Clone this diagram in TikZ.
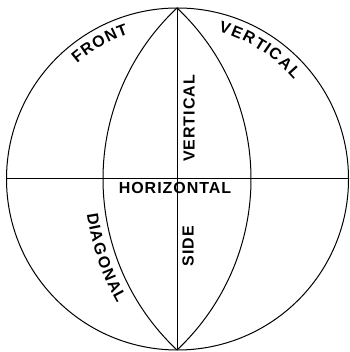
\documentclass[tikz,border=0pt]{standalone}
\usepackage{fontspec}
\setmainfont{Liberation Sans}[LetterSpace=6]
\usetikzlibrary{decorations.text}
\newcommand{\lbfont}{\fontsize{16}{19}\selectfont\bfseries}
\begin{document}
\begin{tikzpicture}[x=1pt,y=1pt,line width=1pt,
  lbl/.style={font=\lbfont, inner sep=0pt},
  curvedlbl/.style={decorate, decoration={text effects along path, text={#1},
    text effects/.cd, text along path, fit text to path,
    characters={font=\lbfont, inner sep=0pt}}}]
\useasboundingbox (0,0) rectangle (349,352);
\coordinate (C) at (177.5,173);
\coordinate (LC) at (337.57,173);
\coordinate (T) at (177,344);
\coordinate (B) at (177,2);
\coordinate (W) at (6.5,173);
\coordinate (E) at (348.5,173);
\draw (C) circle[radius=171];
\draw (W) -- (E);
\draw (T) -- (B);
\draw (T) arc[start angle=133.2, end angle=226.8, radius=234.57];
\draw (T) arc[start angle=46.8, end angle=-46.8, radius=234.57];
% curved labels
\path[curvedlbl=FRONT] ([shift={(131:153)}]C) arc[start angle=131, end angle=108.7, radius=153];
\path[curvedlbl=VERTICAL] ([shift={(74.5:153)}]C) arc[start angle=74.5, end angle=40.5, radius=153];
\path[curvedlbl=DIAGONAL] ([shift={(188:253)}]LC) arc[start angle=188, end angle=209.5, radius=253];
% straight labels
\node[lbl, rotate=90] (vert) at (189,233.5) {VERTICAL};
\node[lbl, rotate=90] (side) at (188,106) {SIDE};
\node[lbl] (hor) at (175,164) {HORIZONTAL};
\end{tikzpicture}
\end{document}
